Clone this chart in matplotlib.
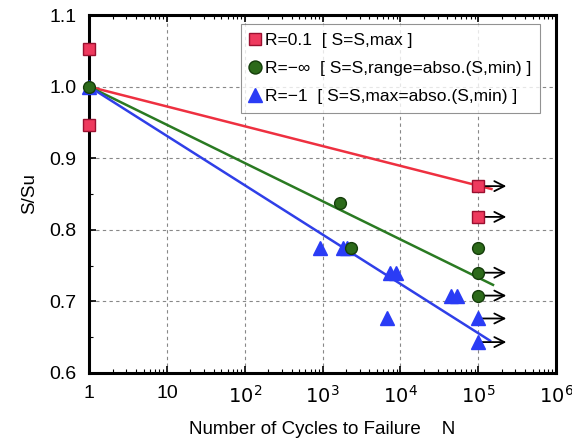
import numpy as np
import matplotlib
matplotlib.use("Agg")
import matplotlib.pyplot as plt
from matplotlib.ticker import FixedLocator, LogLocator, NullFormatter, MultipleLocator

plt.rcParams['font.family'] = ['Liberation Sans', 'DejaVu Sans']

# --- data ---
# R=0.1
red_n = [1, 1, 1e5, 1e5]
red_s = [1.053, 0.947, 0.861, 0.818]
red_runout = [False, False, True, True]
red_line_n = [1, 1.48e5]
red_line_s = [1.0, 0.857]

# R=-inf
green_n = [1, 1680, 2350, 1e5, 1e5, 1e5]
green_s = [1.0, 0.838, 0.774, 0.774, 0.740, 0.708]
green_runout = [False, False, False, False, True, True]
green_line_n = [1, 1.55e5]
green_line_s = [1.0, 0.723]

# R=-1
blue_n = [1, 930, 1840, 2030, 7450, 8850, 44500, 54000, 6700, 1e5, 1e5]
blue_s = [1.0, 0.774, 0.774, 0.774, 0.740, 0.740, 0.708, 0.708, 0.676, 0.676, 0.643]
blue_runout = [False, False, False, False, False, False, False, False, False, True, True]
blue_line_n = [1, 1.42e5]
blue_line_s = [1.0, 0.645]

arrow_end_n = 2.3e5

labels = ["R=0.1  [ S=S,max ]",
          "R=\u2212\u221e  [ S=S,range=abso.(S,min) ]",
          "R=\u22121  [ S=S,max=abso.(S,min) ]"]

fig, ax = plt.subplots(figsize=(5.72, 4.46), dpi=100)
fig.subplots_adjust(left=0.156, right=0.972, top=0.966, bottom=0.164)

ax.set_xscale("log")
ax.set_xlim(1, 1e6)
ax.set_ylim(0.6, 1.1)

# fitted lines
ax.plot(red_line_n, red_line_s, color="#ee3040", lw=1.8, zorder=2)
ax.plot(green_line_n, green_line_s, color="#2a7a22", lw=1.8, zorder=2)
ax.plot(blue_line_n, blue_line_s, color="#2f3fe8", lw=1.8, zorder=2)

# run-out arrows
for ns, ss, ro in [(red_n, red_s, red_runout), (green_n, green_s, green_runout), (blue_n, blue_s, blue_runout)]:
    for n, s, r in zip(ns, ss, ro):
        if r:
            ax.annotate("", xy=(arrow_end_n, s), xytext=(n, s),
                        arrowprops=dict(arrowstyle="->", color="black", lw=1.3,
                                        mutation_scale=18, shrinkA=0, shrinkB=0),
                        zorder=3)

# markers
ax.plot(blue_n, blue_s, "^", ms=9.5, color="#2a3cf5", mec="#2a3cf5", ls="none",
        clip_on=False, zorder=4, label=labels[2])
ax.plot(green_n, green_s, "o", ms=8.5, color="#2c6a1a", mec="#143d0a", mew=1, ls="none",
        clip_on=False, zorder=5, label=labels[1])
ax.plot(red_n, red_s, "s", ms=8.5, color="#ee3a5e", mec="#9a1030", mew=1, ls="none",
        clip_on=False, zorder=6, label=labels[0])

# axes styling
ax.xaxis.set_major_locator(FixedLocator([1, 10, 1e2, 1e3, 1e4, 1e5, 1e6]))
ax.set_xticklabels(["1", "10", "$10^2$", "$10^3$", "$10^4$", "$10^5$", "$10^6$"])
ax.xaxis.set_minor_locator(LogLocator(base=10, subs=np.arange(2, 10), numticks=20))
ax.xaxis.set_minor_formatter(NullFormatter())
ax.yaxis.set_major_locator(MultipleLocator(0.1))
ax.yaxis.set_minor_locator(MultipleLocator(0.05))
ax.set_yticklabels([f"{v:.1f}" for v in ax.get_yticks()])

ax.tick_params(which="major", direction="in", length=5, width=1.2, labelsize=14,
               top=True, right=False, pad=9)
ax.tick_params(which="minor", direction="in", length=3, width=0.8, top=True, right=False)
ax.tick_params(axis="y", which="both", right=False)
for sp in ax.spines.values():
    sp.set_linewidth(2.2)

ax.grid(True, which="major", ls=(0, (3, 3)), color="#888888", lw=0.8)

ax.set_ylabel("S/Su", fontsize=13.5, labelpad=8)
ax.set_xlabel("Number of Cycles to Failure    N", fontsize=13.5, labelpad=10)

handles, lbls = ax.get_legend_handles_labels()
order = [2, 1, 0]
leg = ax.legend([handles[i] for i in order], [lbls[i] for i in order],
                loc="upper right", fontsize=12.5, frameon=True, fancybox=False,
                handlelength=0.6, handletextpad=0.3, borderpad=0.5, labelspacing=0.75,
                markerscale=1.1, bbox_to_anchor=(0.985, 1.0))
leg.get_frame().set_edgecolor("#777777")
leg.get_frame().set_linewidth(0.8)

fig.savefig("out.png", dpi=100)
